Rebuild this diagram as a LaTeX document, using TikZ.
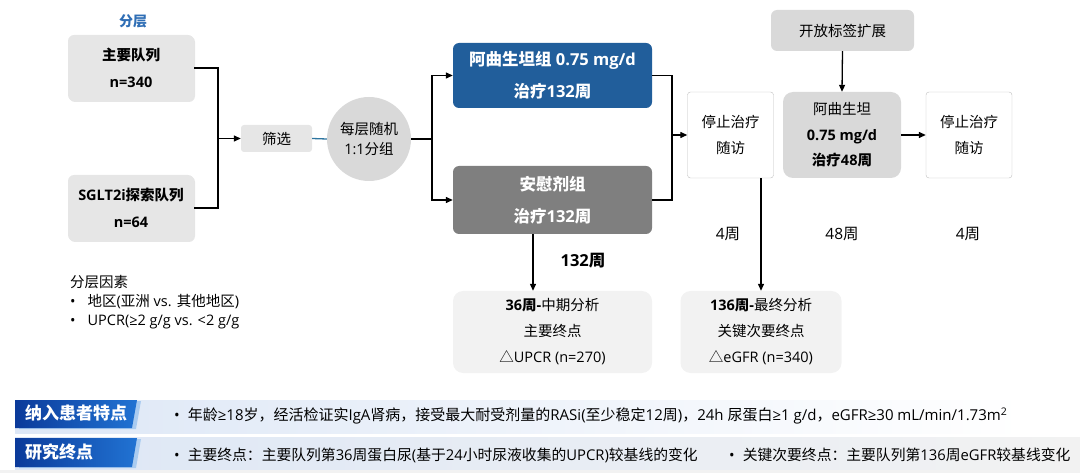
\documentclass[tikz,border=0pt]{standalone}
\usepackage{fontspec}
\setmainfont{Noto Sans CJK SC}
\newfontfamily\latfont{Open Sans}
\newcommand\la[1]{{\latfont #1}}
\usetikzlibrary{arrows.meta,shadows}

\definecolor{titleblue}{HTML}{2F6EB5}
\definecolor{trtblue}{HTML}{215E9B}
\definecolor{pbogray}{HTML}{7F7F7F}
\definecolor{boxgray}{HTML}{E6E6E6}
\definecolor{midgray}{HTML}{D9D9D9}
\definecolor{palegray}{HTML}{F2F2F2}
\definecolor{edgegray}{HTML}{BFBFBF}
\definecolor{linkteal}{HTML}{2E75A0}
\definecolor{bandblue}{HTML}{DDE7F6}
\definecolor{tabdark}{HTML}{0B3A9A}
\definecolor{tablight}{HTML}{2173D3}
\definecolor{tabshade}{HTML}{A9CBF0}

\begin{document}
\begin{tikzpicture}[x=1pt,y=-1pt,>={Triangle[length=7pt,width=6pt]},
  every node/.style={inner sep=0pt,align=center,font=\fontsize{14.5}{26}\selectfont},
  cohbox/.style={fill=boxgray,rounded corners=6pt,minimum width=126pt,minimum height=66pt,
    drop shadow={shadow xshift=1pt,shadow yshift=-1pt,opacity=0.2},
    font=\bfseries\fontsize{14.5}{27}\selectfont},
  armbox/.style={rounded corners=6pt,minimum width=199pt,text=white,
    font=\bfseries\fontsize{16.5}{32}\selectfont},
  stopbox/.style={draw=edgegray,fill=white,rounded corners=3pt,minimum width=86pt,minimum height=86pt},
  endbox/.style={fill=palegray,rounded corners=10pt,minimum height=82pt},
  link/.style={line width=1.3pt}]

\useasboundingbox (0,0) rectangle (1080,473);

% stratification
\node[text=titleblue,font=\bfseries\fontsize{14}{16}\selectfont] (strtitle) at (133,21) {分层};
\node[cohbox] (coh1) at (131,68) {主要队列\\\la{n=340}};
\node[cohbox] (coh2) at (131,208) {\la{SGLT2i}探索队列\\\la{n=64}};

\node[fill=boxgray,rounded corners=3pt,minimum width=71pt,minimum height=27pt] (screen) at (276.5,138.5) {筛选};
\node[circle,fill=midgray,minimum size=84pt,font=\fontsize{14.5}{20}\selectfont] (rand) at (369,139) {每层随机\\\la{1:1}分组};

\coordinate (m1) at (218,138.5);
\draw[link] (coh1.east) -| (m1);
\draw[link] (coh2.east) -| (m1);
\draw[link,->] (m1) -- (screen.west);
\draw[link,linkteal] (screen.east) -- (rand.west);

% treatment arms
\node[armbox,fill=trtblue,minimum height=65pt] (trt) at (552.5,75.5) {阿曲生坦组\la{ 0.75 mg/d}\\治疗\la{132}周};
\node[armbox,fill=pbogray,minimum height=68pt] (pbo) at (552.5,200) {安慰剂组\\治疗\la{132}周};

\coordinate (m2) at (432,139);
\draw[link] (rand.east) -- (m2);
\draw[link,->] (m2) |- (trt.west);
\draw[link,->] (m2) |- (pbo.west);

% follow-up and open label
\node[stopbox] (stop1) at (730.5,135) {停止治疗\\随访};
\node[fill=midgray,rounded corners=10pt,minimum width=118pt,minimum height=86pt,font=\fontsize{14.5}{25.5}\selectfont] (ola) at (842,135) {阿曲生坦\\\textbf{\la{0.75 mg/d}}\\\textbf{治疗\la{48}周}};
\node[fill=midgray,rounded corners=6pt,minimum width=143pt,minimum height=41pt] (ext) at (842.5,30.5) {开放标签扩展};
\node[stopbox] (stop2) at (969,135) {停止治疗\\随访};

\coordinate (m3) at (672,135);
\draw[link] (trt.east) -| (m3);
\draw[link] (pbo.east) -| (m3);
\draw[link,->] (m3) -- (stop1.west);
\draw[link,->] (ext.south) -- (ola.north);
\draw[link,->] (ola.east) -- (stop2.west);

\node[font=\fontsize{15.5}{18}\selectfont] (wk4a) at (728,234) {\la{4}周};
\node[font=\fontsize{15.5}{18}\selectfont] (wk48) at (842,234) {\la{48}周};
\node[font=\fontsize{15.5}{18}\selectfont] (wk4b) at (968,234) {\la{4}周};
\node[font=\bfseries\fontsize{16.5}{18}\selectfont] (wk132) at (583,261) {\la{132}周};

% analyses
\node[endbox,minimum width=199pt] (ia) at (552.5,332) {{\bfseries\la{36}周\la{-}}中期分析\\主要终点\\△\la{UPCR (n=270)}};
\node[endbox,minimum width=161pt] (fa) at (761,332) {{\bfseries\la{136}周\la{-}}最终分析\\关键次要终点\\△\la{eGFR (n=340)}};
\draw[link,->] ([xshift=-19.5pt]pbo.south) -- ([xshift=-19.5pt]ia.north);
\draw[link,->] (fa.north |- stop1.south) -- (fa.north);

\node[anchor=north west,align=left,font=\fontsize{14.5}{19}\selectfont] (strat) at (70,275)
  {分层因素\\\la{\textbullet\hspace{12pt}}地区\la{(}亚洲\la{ vs. }其他地区\la{)}\\\la{\textbullet\hspace{12pt}UPCR(≥2 g/g vs. <2 g/g}};

% bottom bands
\shade[left color=bandblue,right color=white] (15,400) rectangle (1025,433);
\shade[left color=bandblue,right color=palegray] (15,437) rectangle (1080,470);
\fill[palegray] (0,470) rectangle (1080,473);
\fill[tabshade] (19,401) -- (141,401) -- (136,429) -- (19,429) -- cycle;
\shade[left color=tabdark,right color=tablight] (15,400) -- (137,400) -- (132,428) -- (15,428) -- cycle;
\fill[tabshade] (19,439) -- (141,439) -- (136,468) -- (19,468) -- cycle;
\shade[left color=tabdark,right color=tablight] (15,438) -- (137,438) -- (132,467) -- (15,467) -- cycle;
\node[anchor=west,text=white,font=\bfseries\fontsize{17}{20}\selectfont] (tab1) at (25,413) {纳入患者特点};
\node[anchor=west,text=white,font=\bfseries\fontsize{17}{20}\selectfont] (tab2) at (25,452) {研究终点};

\node[anchor=west,font=\fontsize{15}{16}\selectfont] (incl) at (174,416)
  {\la{\textbullet\hspace{8pt}}年龄\la{≥18}岁，经活检证实\la{IgA}肾病，接受最大耐受剂量的\la{RASi(}至少稳定\la{12}周\la{)}，\la{24h }尿蛋白\la{≥1 g/d}，\la{eGFR≥30 mL/min/1.73m\textsuperscript{2}}};
\node[anchor=west,font=\fontsize{14.8}{16}\selectfont] (prim) at (174,455)
  {\la{\textbullet\hspace{8pt}}主要终点：主要队列第\la{36}周蛋白尿\la{(}基于\la{24}小时尿液收集的\la{UPCR)}较基线的变化};
\node[anchor=west,font=\fontsize{14.8}{16}\selectfont] (sec) at (729,455)
  {\la{\textbullet\hspace{8pt}}关键次要终点：主要队列第\la{136}周\la{eGFR}较基线变化};
\end{tikzpicture}
\end{document}
